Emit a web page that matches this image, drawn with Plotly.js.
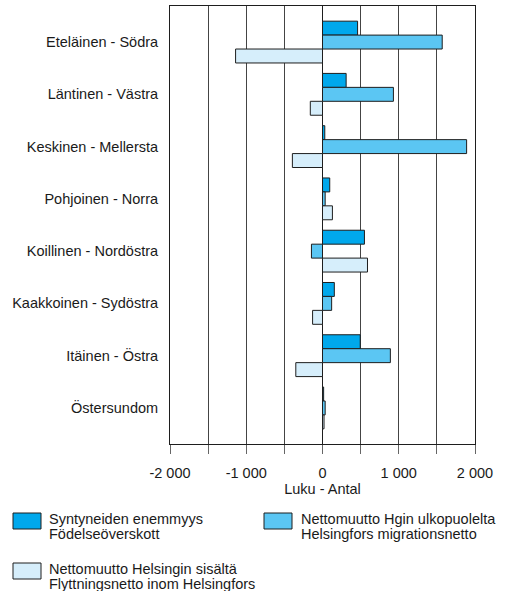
<!DOCTYPE html>
<html>
<head>
<meta charset="utf-8">
<script src="https://cdn.plot.ly/plotly-3.0.1.min.js"></script>
<style>html,body{margin:0;padding:0;background:#fff;}#chart{width:506px;height:591px;}</style>
</head>
<body>
<div id="chart"></div>
<script>
const categories = ["Eteläinen - Södra", "Läntinen - Västra", "Keskinen - Mellersta", "Pohjoinen - Norra", "Koillinen - Nordöstra", "Kaakkoinen - Sydöstra", "Itäinen - Östra", "Östersundom"];
const seriesNames = [
  ["Syntyneiden enemmyys", "Födelseöverskott"],
  ["Nettomuutto Hgin ulkopuolelta", "Helsingfors migrationsnetto"],
  ["Nettomuutto Helsingin sisältä", "Flyttningsnetto inom Helsingfors"]
];
const birthSurplus = [460, 310, 30, 95, 550, 155, 495, 15];
const migrationOutside = [1570, 930, 1890, 35, -145, 120, 890, 35];
const migrationInside = [-1140, -160, -395, 130, 590, -130, -350, 20];
const tickValues = [-2000, -1500, -1000, -500, 0, 500, 1000, 1500, 2000];
const tickLabels = ["-2 000", "", "-1 000", "", "0", "", "1 000", "", "2 000"];
const colors = ["#00a8ec", "#5bc6f3", "#d6eefb"];

const W = 506, H = 591, L = 170, R = 475, T = 6, B = 444;
const FS = 14.5;
const px = x => (x - L) / (R - L);
const py = y => (B - y) / (B - T);

const allSeries = [birthSurplus, migrationOutside, migrationInside];
const traces = allSeries.map((vals, i) => ({
  type: "bar",
  orientation: "h",
  y: categories,
  x: vals,
  name: seriesNames[i].join(" / "),
  marker: {color: colors[i], line: {color: "#1e1e1e", width: 1}},
  hoverinfo: "x+y"
}));

const legendPos = [
  {bx: 13, by: 513, tx: 48},
  {bx: 264, by: 513, tx: 300},
  {bx: 13, by: 563, tx: 48}
];
const shapes = legendPos.map((p, i) => ({
  type: "rect", xref: "paper", yref: "paper",
  x0: px(p.bx), x1: px(p.bx + 28), y0: py(p.by), y1: py(p.by + 16),
  fillcolor: colors[i], line: {color: "#1e1e1e", width: 1}
}));
const annotations = [];
legendPos.forEach((p, i) => {
  seriesNames[i].forEach((line, j) => {
    annotations.push({
      xref: "paper", yref: "paper", x: px(p.tx), y: py(p.by + 6 + j * 15),
      xanchor: "left", yanchor: "middle", align: "left", showarrow: false,
      borderpad: 0,
      text: line, font: {size: FS, color: "#1a1a1a"}
    });
  });
});

const layout = {
  width: W, height: H,
  margin: {l: L, r: W - R, t: T, b: H - B},
  paper_bgcolor: "#fff", plot_bgcolor: "#fff",
  font: {family: "Liberation Sans, Arial, sans-serif", size: FS, color: "#1a1a1a"},
  barmode: "group", bargap: 0.2, bargroupgap: 0,
  showlegend: false,
  xaxis: {
    range: [-2000, 2000],
    tickmode: "array", tickvals: tickValues, ticktext: tickLabels,
    showgrid: true, gridcolor: "#444", gridwidth: 1,
    zeroline: true, zerolinecolor: "#1e1e1e", zerolinewidth: 1,
    showline: true, linecolor: "#1e1e1e", linewidth: 1, mirror: true,
    ticks: "outside", ticklen: 9, tickcolor: "#666", tickwidth: 1,
    ticklabelstandoff: 7,
    tickfont: {size: FS},
    title: {text: "Luku - Antal", font: {size: FS}, standoff: 0},
    fixedrange: true
  },
  yaxis: {
    type: "category",
    range: [7.69, -0.69],
    showgrid: false, zeroline: false,
    showline: true, linecolor: "#1e1e1e", linewidth: 1, mirror: true,
    ticks: "", ticklabelstandoff: 8,
    tickfont: {size: FS},
    fixedrange: true
  },
  shapes: shapes,
  annotations: annotations
};

Plotly.newPlot("chart", traces, layout, {displayModeBar: false, staticPlot: true});
</script>
</body>
</html>
